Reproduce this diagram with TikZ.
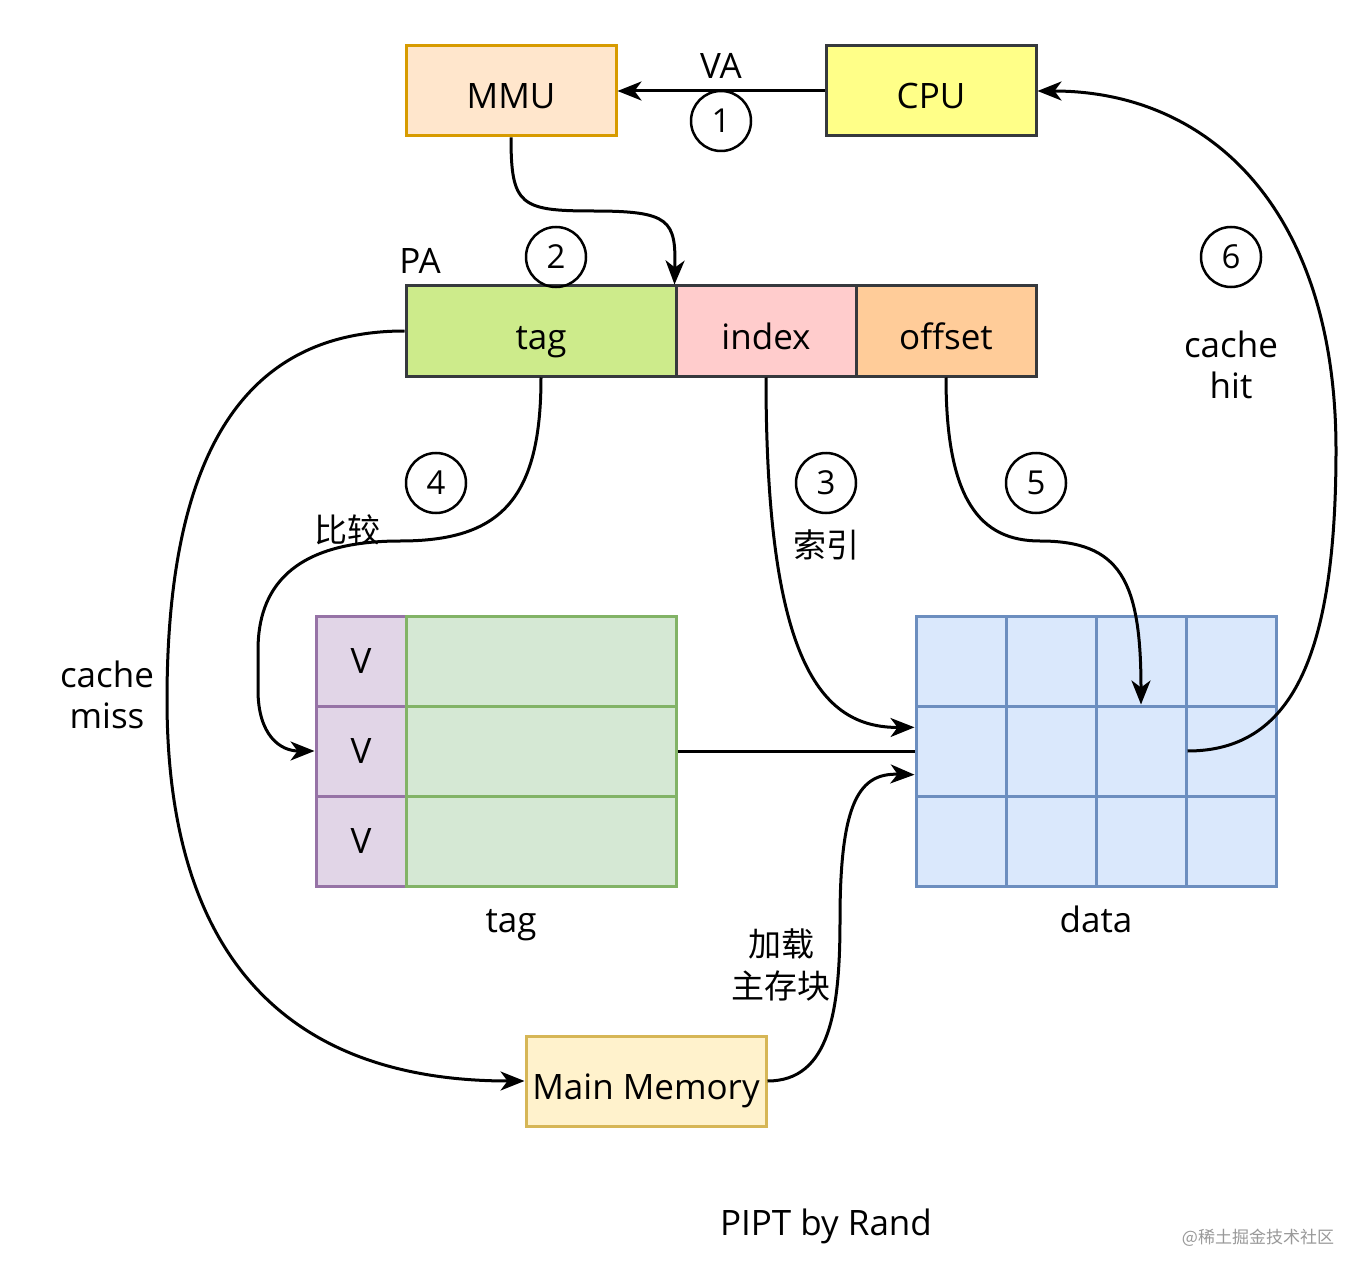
\documentclass[tikz,border=0pt]{standalone}
\usepackage{fontspec}
\setmainfont{Open Sans}
\newfontfamily\cjk{Noto Sans CJK SC}
\usetikzlibrary{arrows.meta}
\definecolor{mmuFill}{HTML}{FFE6CC}\definecolor{mmuLine}{HTML}{D79B00}
\definecolor{cpuFill}{HTML}{FFFF88}\definecolor{cpuLine}{HTML}{36393D}
\definecolor{memFill}{HTML}{FFF2CC}\definecolor{memLine}{HTML}{D6B656}
\definecolor{tagFill}{HTML}{CDEB8B}\definecolor{idxFill}{HTML}{FFCCCC}
\definecolor{offFill}{HTML}{FFCC99}
\definecolor{vFill}{HTML}{E1D5E7}\definecolor{vLine}{HTML}{9673A6}
\definecolor{gFill}{HTML}{D5E8D4}\definecolor{gLine}{HTML}{82B366}
\definecolor{dFill}{HTML}{DAE8FC}\definecolor{dLine}{HTML}{6C8EBF}
\begin{document}
\begin{tikzpicture}
[x=1pt,y=-1pt,
  lineDecorate/.style={-{Stealth[length=24pt,width=19pt,inset=7pt]},line width=3pt},
  plainDecorate/.style={-,line width=3pt},
  boxDecorate/.style={draw,line width=3pt,minimum width=210pt,minimum height=90pt,
    inner sep=0pt,text height=36pt,text depth=0pt,font=\fontsize{35}{42}\selectfont},
  cellDecorate/.style={draw,line width=3pt,minimum size=90pt,inner sep=0pt,
    font=\fontsize{35}{42}\selectfont},
  numDecorate/.style={shape=circle,draw,line width=2.5pt,minimum size=60pt,
    inner sep=0pt,font=\fontsize{33}{40}\selectfont},
  labelDecorate/.style={inner sep=0pt,text height=36pt,text depth=0pt,
    font=\fontsize{35}{42}\selectfont},
  textDecorate/.style={inner sep=0pt,align=center,font=\fontsize{35}{41}\selectfont},
  cjkDecorate/.style={inner sep=0pt,align=center,font=\fontsize{33}{42}\cjk}]
\useasboundingbox[fill=white] (0,0) rectangle (1371,1281);
%% boxes
\node (mmu) at (511,91) [boxDecorate,fill=mmuFill,draw=mmuLine] {MMU};
\node (cpu) at (931,91) [boxDecorate,fill=cpuFill,draw=cpuLine] {CPU};
\node (mem) at (646,1081) [boxDecorate,minimum width=240pt,fill=memFill,draw=memLine] {Main Memory};
%% physical address fields
\foreach \nodename/\x/\w/\col/\txt in {
  tagf/541/270/tagFill/tag, idx/766/180/idxFill/index, off/946/180/offFill/offset}
{
  \node (\nodename) at (\x,331) [boxDecorate,minimum width=\w pt,fill=\col,draw=cpuLine] {\txt};
}
%% tag array
\foreach \r/\y in {1/661, 2/751, 3/841}
{
  \node (v\r) at (361,\y) [cellDecorate,fill=vFill,draw=vLine] {V};
  \node (g\r) at (541,\y) [cellDecorate,minimum width=270pt,fill=gFill,draw=gLine] {};
}
%% data array
\foreach \r/\y in {1/661, 2/751, 3/841}
  \foreach \c/\x in {1/961, 2/1051, 3/1141, 4/1231}
  {
    \node (d\r\c) at (\x,\y) [cellDecorate,fill=dFill,draw=dLine] {};
  }
%% step numbers
\foreach \nodename/\x/\y in {1/721/121, 2/556/257, 3/826/483, 4/436/483, 5/1036/483, 6/1231/257}
{
  \node (n\nodename) at (\x,\y) [numDecorate] {\nodename};
}
%% labels
\node (va) at (721,61) [labelDecorate] {VA};
\node (pa) at (420,256) [labelDecorate] {PA};
\node (tagl) at (511,914) [labelDecorate] {tag};
\node (datal) at (1096,914) [labelDecorate] {data};
\node (hit) at (1231,365) [textDecorate] {cache\\hit};
\node (miss) at (107,695) [textDecorate] {cache\\miss};
\node (title) at (826,1217) [labelDecorate] {PIPT by Rand};
\node (cmp) at (347,530) [cjkDecorate] {比较};
\node (look) at (826,545) [cjkDecorate] {索引};
\node (load) at (781,965) [cjkDecorate] {加载\\主存块};
\node (mark) at (1258,1238) [inner sep=0pt,text=black!40,font=\fontsize{17}{20}\cjk] {@稀土掘金技术社区};
%% edges
\draw[lineDecorate] (cpu.west) -- (mmu.east);
\draw[lineDecorate] (mmu.south) .. controls (511,205) and (520,211) .. (593,211)
  .. controls (670,211) and (676,220) .. (idx.north west);
\draw[lineDecorate] (idx.south) .. controls (766,660) and (820,728) .. (d21.153);
\draw[lineDecorate] (tagf.south) .. controls (541,500) and (500,541) .. (400,541)
  .. controls (290,541) and (258,590) .. (258,650) -- (258,690)
  .. controls (258,735) and (280,751) .. (v2.west);
\draw[lineDecorate] (off.south) .. controls (946,500) and (980,541) .. (1040,541)
  .. controls (1120,541) and (1141,580) .. (d23.north);
\draw[plainDecorate] (g2.east) -- (d21.west);
\draw[lineDecorate] (d23.east) .. controls (1290,751) and (1336,660) .. (1336,450)
  .. controls (1336,210) and (1210,91) .. (cpu.east);
\draw[lineDecorate] (tagf.west) .. controls (260,331) and (167,430) .. (167,700)
  .. controls (167,960) and (290,1081) .. (mem.west);
\draw[lineDecorate] (mem.east) .. controls (830,1081) and (840,1010) .. (840,920)
  .. controls (840,800) and (860,773) .. (d21.207);
\end{tikzpicture}
\end{document}
